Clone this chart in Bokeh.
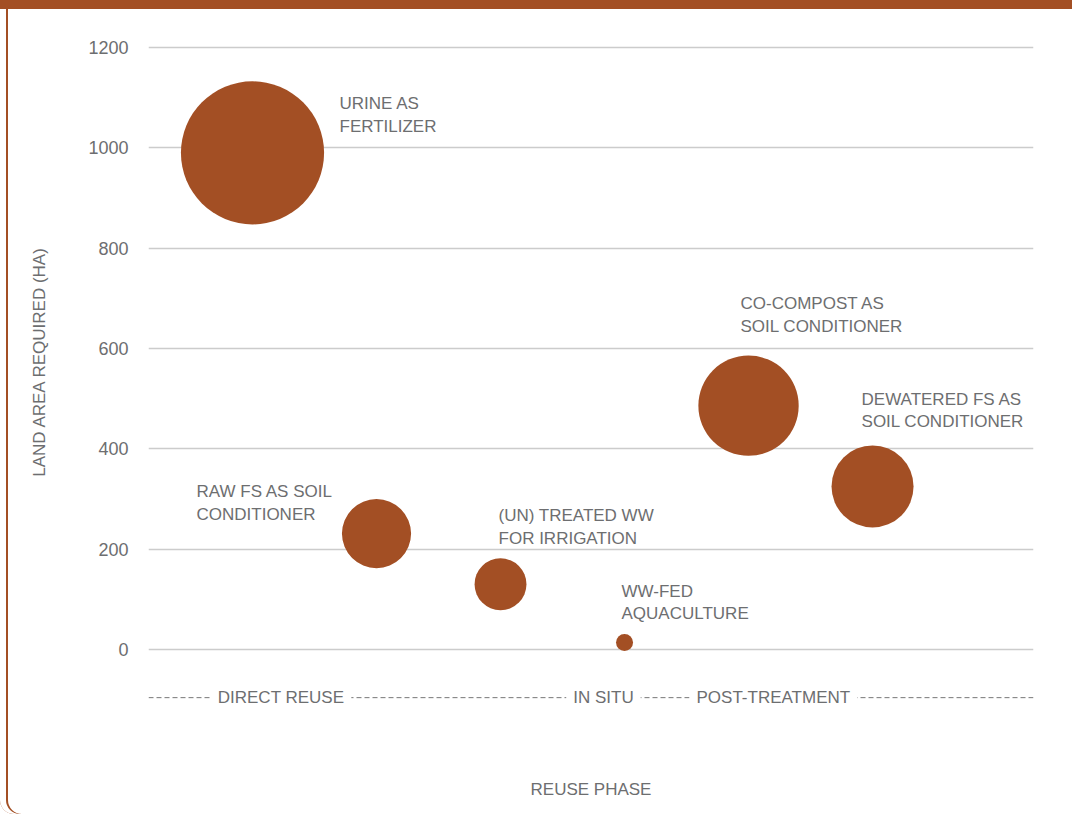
import numpy as np
from bokeh.plotting import figure
from bokeh.models import Range1d, FixedTicker, ColumnDataSource, Span
from bokeh.core.properties import value
from bokeh.embed import file_html
from bokeh.resources import INLINE

# ---- data ----
categories = ["URINE AS\nFERTILIZER", "RAW FS AS SOIL\nCONDITIONER",
              "(UN) TREATED WW\nFOR IRRIGATION", "WW-FED\nAQUACULTURE",
              "CO-COMPOST AS\nSOIL CONDITIONER", "DEWATERED FS AS\nSOIL CONDITIONER"]
order = [1, 2, 3, 4, 5, 6]
land_area = [990, 231, 130, 14, 486, 325]
y_ticks = [0, 200, 400, 600, 800, 1000, 1200]
phases = ["DIRECT REUSE", "IN SITU", "POST-TREATMENT"]
phase_centers = [1.23, 3.83, 5.20]

# ---- styles / layout ----
BROWN = "#a34f24"
GRAY = "#6d6e70"
FONT = value("Liberation Sans")
label_dx = [87, -180, -2, -3, -8, -11]
label_dy = [-38, -31, -57, -40, -91, -76]
bubble_k = 4.55
phase_row_y = -96

p = figure(width=1072, height=814,
           x_range=Range1d(0.1613, 7.298), y_range=Range1d(-125.6, 1273.8),
           output_backend="svg", toolbar_location=None,
           min_border_left=148, min_border_right=39, min_border_top=10, min_border_bottom=102)
p.outline_line_color = None
p.background_fill_color = "white"
p.border_fill_color = None
p.styles = {
    "box-shadow": f"inset 0 9px 0 0 {BROWN}, inset 6px 0 0 0 #ffffff, inset 8px 0 0 0 {BROWN}",
    "border-bottom-left-radius": "14px",
}

src = ColumnDataSource(dict(
    x=order, y=land_area, label=categories,
    size=[bubble_k * np.sqrt(v) for v in land_area],
    dx=label_dx, dy=label_dy))

p.scatter("x", "y", size="size", source=src, fill_color=BROWN, line_color=None)
p.text("x", "y", text="label", x_offset="dx", y_offset="dy", source=src,
       text_font=FONT, text_font_size="17px", text_color=GRAY,
       text_align="left", text_baseline="middle", text_line_height=1.2)

# phase row
p.add_layout(Span(location=phase_row_y, dimension="width", line_color="#777777",
                  line_width=1, line_dash="5 3", level="underlay"))
p.text(x=phase_centers, y=[phase_row_y] * len(phases), text=phases,
       text_font=FONT, text_font_size="17px", text_color=GRAY,
       text_align="center", text_baseline="middle",
       background_fill_color="white", padding=7)

# axes
p.yaxis.ticker = FixedTicker(ticks=y_ticks)
p.ygrid.ticker = FixedTicker(ticks=y_ticks)
p.ygrid.grid_line_color = "#cccccc"
p.ygrid.grid_line_width = 1.5
p.xgrid.grid_line_color = None
p.yaxis.axis_line_color = None
p.yaxis.major_tick_line_color = None
p.yaxis.minor_tick_line_color = None
p.yaxis.major_tick_out = 0
p.yaxis.major_label_standoff = 20
p.yaxis.major_label_text_font = "Liberation Sans"
p.yaxis.major_label_text_font_size = "18px"
p.yaxis.major_label_text_color = GRAY
p.yaxis.axis_label = "LAND AREA REQUIRED (HA)"
p.yaxis.axis_label_text_font = "Liberation Sans"
p.yaxis.axis_label_text_font_size = "17px"
p.yaxis.axis_label_text_font_style = "normal"
p.yaxis.axis_label_text_color = GRAY
p.yaxis.axis_label_standoff = 36

p.xaxis.ticker = FixedTicker(ticks=[])
p.xaxis.axis_line_color = None
p.xaxis.major_tick_line_color = None
p.xaxis.minor_tick_line_color = None
p.xaxis.axis_label = "REUSE PHASE"
p.xaxis.axis_label_text_font = "Liberation Sans"
p.xaxis.axis_label_text_font_size = "17px"
p.xaxis.axis_label_text_font_style = "normal"
p.xaxis.axis_label_text_color = GRAY
p.xaxis.axis_label_standoff = 67

open("out.html", "w").write(file_html(p, INLINE))
